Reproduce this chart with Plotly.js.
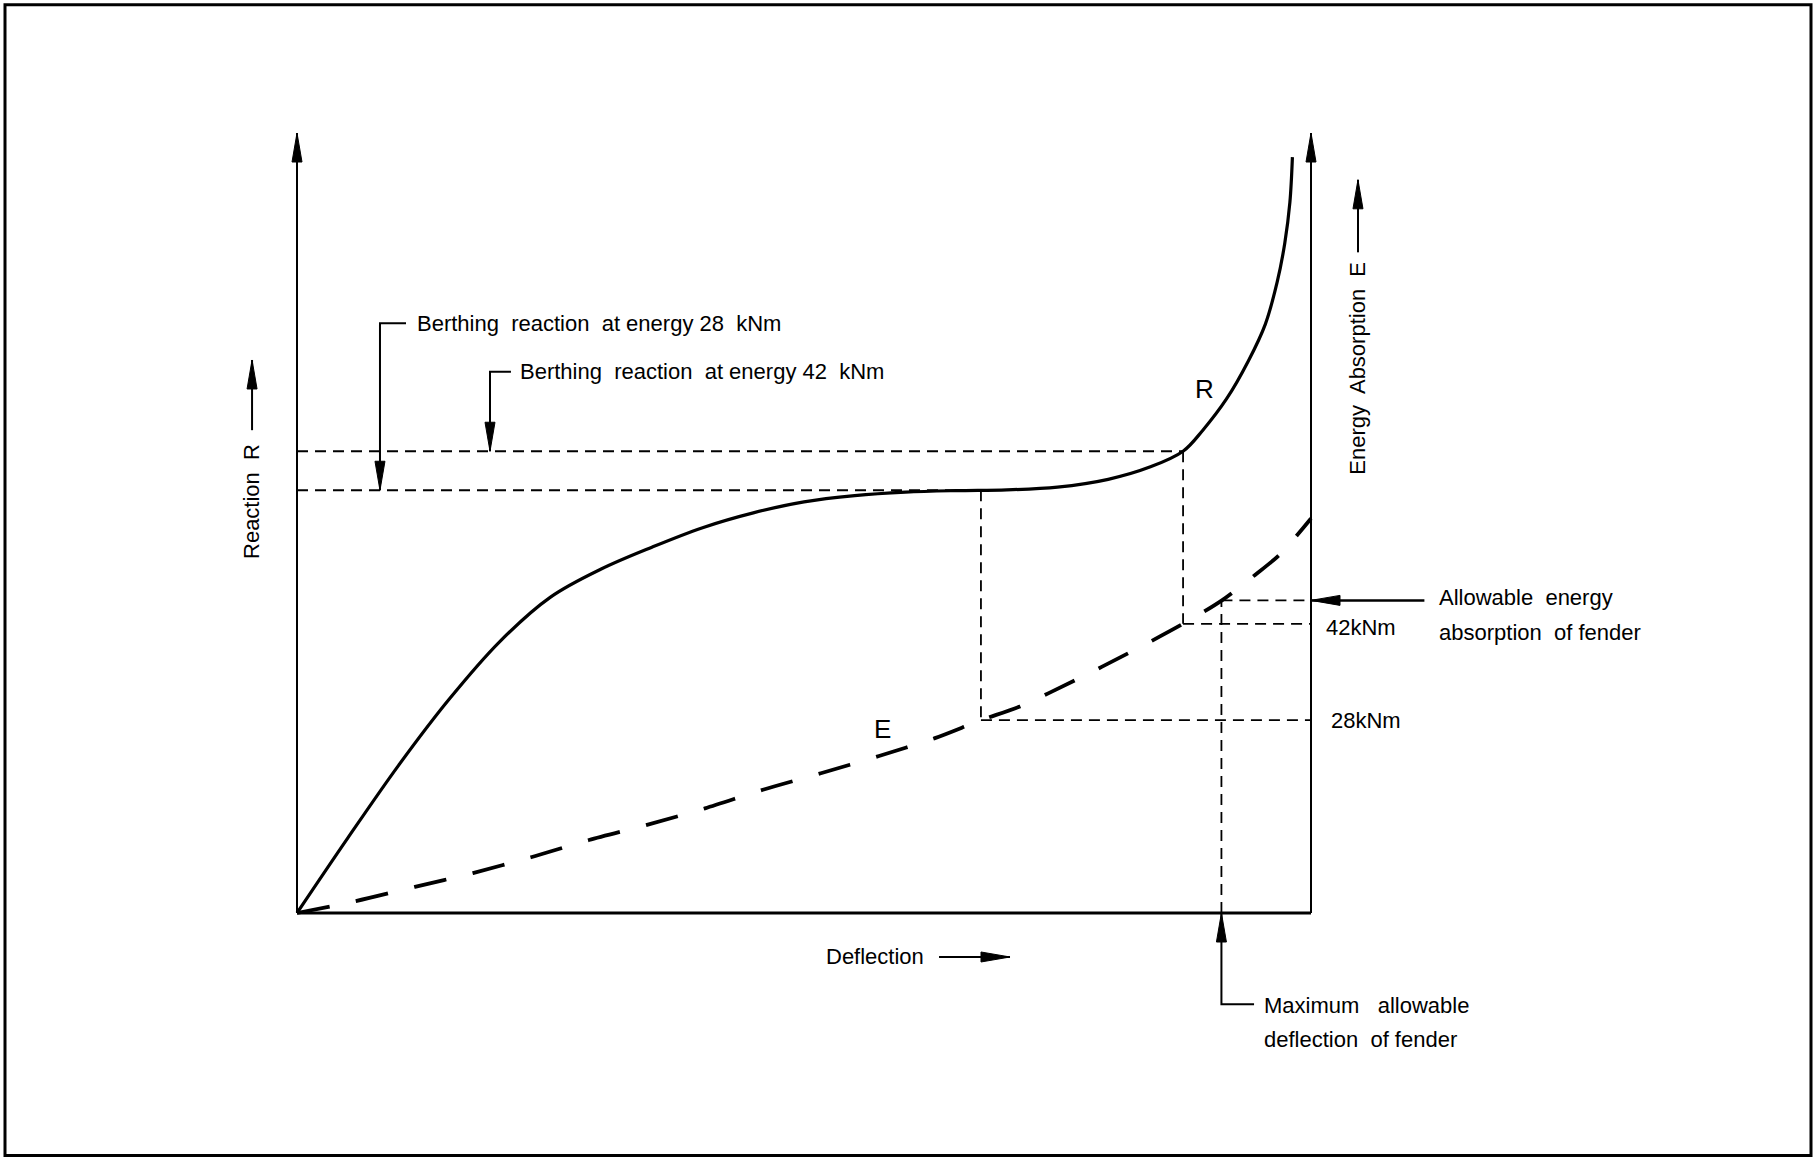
<!DOCTYPE html>
<html>
<head>
<meta charset="utf-8">
<script src="https://cdn.plot.ly/plotly-3.0.1.min.js"></script>
<style>
html, body { margin: 0; padding: 0; background: #ffffff; }
#chart { width: 1813px; height: 1157px; }
</style>
</head>
<body>
<div id="chart"></div>
<script>
// ---- Data (deflection in % of the drawn axis, reaction in % of axis, energy in kNm) ----
const deflectionR = [0, 3, 6, 9, 12, 15, 18, 21, 24, 27, 30, 33, 36, 39, 42, 45, 48, 50.5, 52.43, 53.6, 55.0, 56.3, 57.3, 58.0, 58.45, 58.75, 58.9];
const reaction    = [0, 9.6, 18.9, 27.4, 34.8, 40.5, 44.1, 46.9, 49.4, 51.3, 52.7, 53.5, 53.95, 54.15, 54.25, 54.6, 55.6, 57.2, 59.2, 61.9, 65.9, 70.8, 75.5, 80.9, 85.9, 91.1, 96.9];

const deflectionE = [0, 3.43, 6.98, 10.41, 13.85, 17.28, 20.71, 24.14, 27.57, 31.0, 34.44, 37.75, 40.47, 42.78, 46.04, 49.17, 52.43, 54.73, 56.69, 58.17, 60.0];
const energy      = [0, 1.7, 3.8, 5.8, 8.1, 10.6, 12.8, 15.2, 17.9, 20.3, 22.8, 25.4, 28.0, 30.0, 33.8, 37.7, 42.0, 45.4, 49.1, 52.1, 57.3];

const energyLevels = [28, 42];
const energyLevelLabels = ['28kNm', '42kNm'];
const allowableEnergy = 45.4;
const maxDeflection = 54.7;
const deflectionAxisMax = 60;
const reactionAxisMax = 100;

// ---- Geometry of the drawing (pixels) ----
const W = 1813, H = 1157;
const originPx = 297, originPy = 913, rightAxisPx = 1311, axisTopPy = 133;
const pxPerX = (rightAxisPx - originPx) / deflectionAxisMax;
const pxPerR = (originPy - axisTopPy) / reactionAxisMax;
const pxPerE = 6.886;
const xRange = [-originPx / pxPerX, (W - originPx) / pxPerX];
const yRange = [-(H - originPy) / pxPerR, originPy / pxPerR];
const y2Range = [-(H - originPy) / pxPerE, originPy / pxPerE];
const rToE = r => r * pxPerR / pxPerE;
const eToR = e => e * pxPerE / pxPerR;

function interp(xs, ys, x) {
  for (let i = 0; i < xs.length - 1; i++) {
    if ((x >= xs[i] && x <= xs[i + 1]) || (x <= xs[i] && x >= xs[i + 1])) {
      const t = (x - xs[i]) / (xs[i + 1] - xs[i]);
      return ys[i] + t * (ys[i + 1] - ys[i]);
    }
  }
  return ys[ys.length - 1];
}

const FONT = 'Liberation Sans, Arial, Helvetica, sans-serif';
const NB = '\u00a0';
const thinDash = { color: '#000', width: 1.8, dash: '11px,7px' };

const traces = [];
traces.push({ x: deflectionR, y: reaction, mode: 'lines', line: { color: '#000', width: 3.2, shape: 'spline', smoothing: 1 }, yaxis: 'y' });
traces.push({ x: deflectionE, y: energy, mode: 'lines', line: { color: '#000', width: 3.8, dash: '33px,27px', shape: 'spline', smoothing: 0.8 }, yaxis: 'y2' });

const levelInfo = energyLevels.map(level => {
  const d = interp(energy, deflectionE, level);
  const r = interp(deflectionR, reaction, d);
  return { level, d, r };
});

levelInfo.forEach(info => {
  traces.push({ x: [0, info.d], y: [info.r, info.r], mode: 'lines', line: thinDash, yaxis: 'y' });
  traces.push({ x: [info.d, info.d], y: [rToE(info.r), info.level], mode: 'lines', line: thinDash, yaxis: 'y2' });
  traces.push({ x: [info.d, deflectionAxisMax], y: [info.level, info.level], mode: 'lines', line: thinDash, yaxis: 'y2' });
});
traces.push({ x: [maxDeflection, maxDeflection], y: [0, allowableEnergy], mode: 'lines', line: thinDash, yaxis: 'y2' });
traces.push({ x: [maxDeflection, deflectionAxisMax], y: [allowableEnergy, allowableEnergy], mode: 'lines', line: thinDash, yaxis: 'y2' });

// ---- Shapes: axes, frame, leader arrows ----
const shapes = [];
function seg(x0, y0, x1, y1, w, yref) {
  shapes.push({ type: 'line', xref: 'x', yref: yref || 'y', x0, y0, x1, y1, line: { color: '#000', width: w } });
}
function poly(points, w) {
  const p = points.map((pt, i) => (i ? 'L' : 'M') + pt[0] + ',' + pt[1]).join('');
  shapes.push({ type: 'path', xref: 'x', yref: 'y', path: p, line: { color: '#000', width: w } });
}
const HL = 29, HW = 5;
const heads = {
  up: `M0,0L${-HW},${-HL}L${HW},${-HL}Z`,
  down: `M0,0L${-HW},${HL}L${HW},${HL}Z`,
  right: `M0,0L${-HL},${HW}L${-HL},${-HW}Z`,
  left: `M0,0L${HL},${HW}L${HL},${-HW}Z`
};
function head(x, y, dir, yref) {
  shapes.push({ type: 'path', xref: 'x', yref: yref || 'y', xsizemode: 'pixel', ysizemode: 'pixel',
    xanchor: x, yanchor: y, path: heads[dir], fillcolor: '#000', line: { color: '#000', width: 1 } });
}

// frame
shapes.push({ type: 'rect', xref: 'paper', yref: 'paper', x0: 5 / W, x1: 1811 / W, y0: 1 - 1155.5 / H, y1: 1 - 4.7 / H,
  line: { color: '#000', width: 3 }, fillcolor: 'rgba(0,0,0,0)' });

// axes
seg(0, 0, 0, reactionAxisMax, 2);
seg(0, 0, deflectionAxisMax, 0, 3);
seg(deflectionAxisMax, 0, deflectionAxisMax, reactionAxisMax, 2);
head(0, reactionAxisMax, 'up');
head(deflectionAxisMax, reactionAxisMax, 'up');

// axis title arrows
seg(-2.66, 61.9, -2.66, 70.9, 2); head(-2.66, 70.9, 'up');
seg(62.78, 84.7, 62.78, 94.0, 2); head(62.78, 94.0, 'up');
seg(37.99, -5.64, 42.19, -5.64, 2); head(42.19, -5.64, 'right');

// berthing reaction leaders
poly([[6.45, 75.6], [4.91, 75.6], [4.91, levelInfo[0].r]], 2); head(4.91, levelInfo[0].r, 'down');
poly([[12.66, 69.4], [11.42, 69.4], [11.42, levelInfo[1].r]], 2); head(11.42, levelInfo[1].r, 'down');

// allowable energy leader
seg(66.71, eToR(allowableEnergy), deflectionAxisMax, eToR(allowableEnergy), 2.5);
head(deflectionAxisMax, allowableEnergy, 'left', 'y2');

// max allowable deflection leader
poly([[56.63, -11.7], [maxDeflection, -11.7], [maxDeflection, 0]], 2); head(maxDeflection, 0, 'up');

// ---- Annotations ----
function txt(text, x, y, opts) {
  return Object.assign({ text, x, y, xref: 'x', yref: 'y', showarrow: false, xanchor: 'left', yanchor: 'middle',
    font: { family: FONT, size: 22, color: '#000' } }, opts || {});
}
const annotations = [
  txt(`Berthing${NB} reaction${NB} at energy 28${NB} kNm`, 6.98, 75.6),
  txt(`Berthing${NB} reaction${NB} at energy 42${NB} kNm`, 13.08, 69.4),
  txt('R', 53.67, 67.2, { xanchor: 'center', font: { family: FONT, size: 26, color: '#000' } }),
  txt('E', 34.67, 23.6, { xanchor: 'center', font: { family: FONT, size: 26, color: '#000' } }),
  txt(`Reaction${NB} R`, -2.66, 52.7, { xanchor: 'center', textangle: -90 }),
  txt(`Energy${NB} Absorption${NB} E`, 62.78, 69.9, { xanchor: 'center', textangle: -90 }),
  txt('Deflection', 34.23, -5.64, { xanchor: 'center' }),
  txt(energyLevelLabels[1], 60.77, energyLevels[1], { yref: 'y2', yshift: -4 }),
  txt(energyLevelLabels[0], 61.04, energyLevels[0], { yref: 'y2' }),
  txt(`Allowable${NB} energy`, 67.46, 40.4),
  txt(`absorption${NB} of fender`, 67.46, 36.0),
  txt(`Maximum${NB}${NB} allowable`, 57.1, -11.8),
  txt(`deflection${NB} of fender`, 57.1, -16.2)
];

const layout = {
  width: W, height: H,
  margin: { l: 0, r: 0, t: 0, b: 0, pad: 0 },
  paper_bgcolor: '#ffffff', plot_bgcolor: '#ffffff',
  showlegend: false, hovermode: false,
  xaxis: { range: xRange, visible: false, fixedrange: true },
  yaxis: { range: yRange, visible: false, fixedrange: true },
  yaxis2: { range: y2Range, visible: false, overlaying: 'y', fixedrange: true },
  shapes, annotations
};

Plotly.newPlot('chart', traces, layout, { staticPlot: true, displayModeBar: false });
</script>
</body>
</html>
